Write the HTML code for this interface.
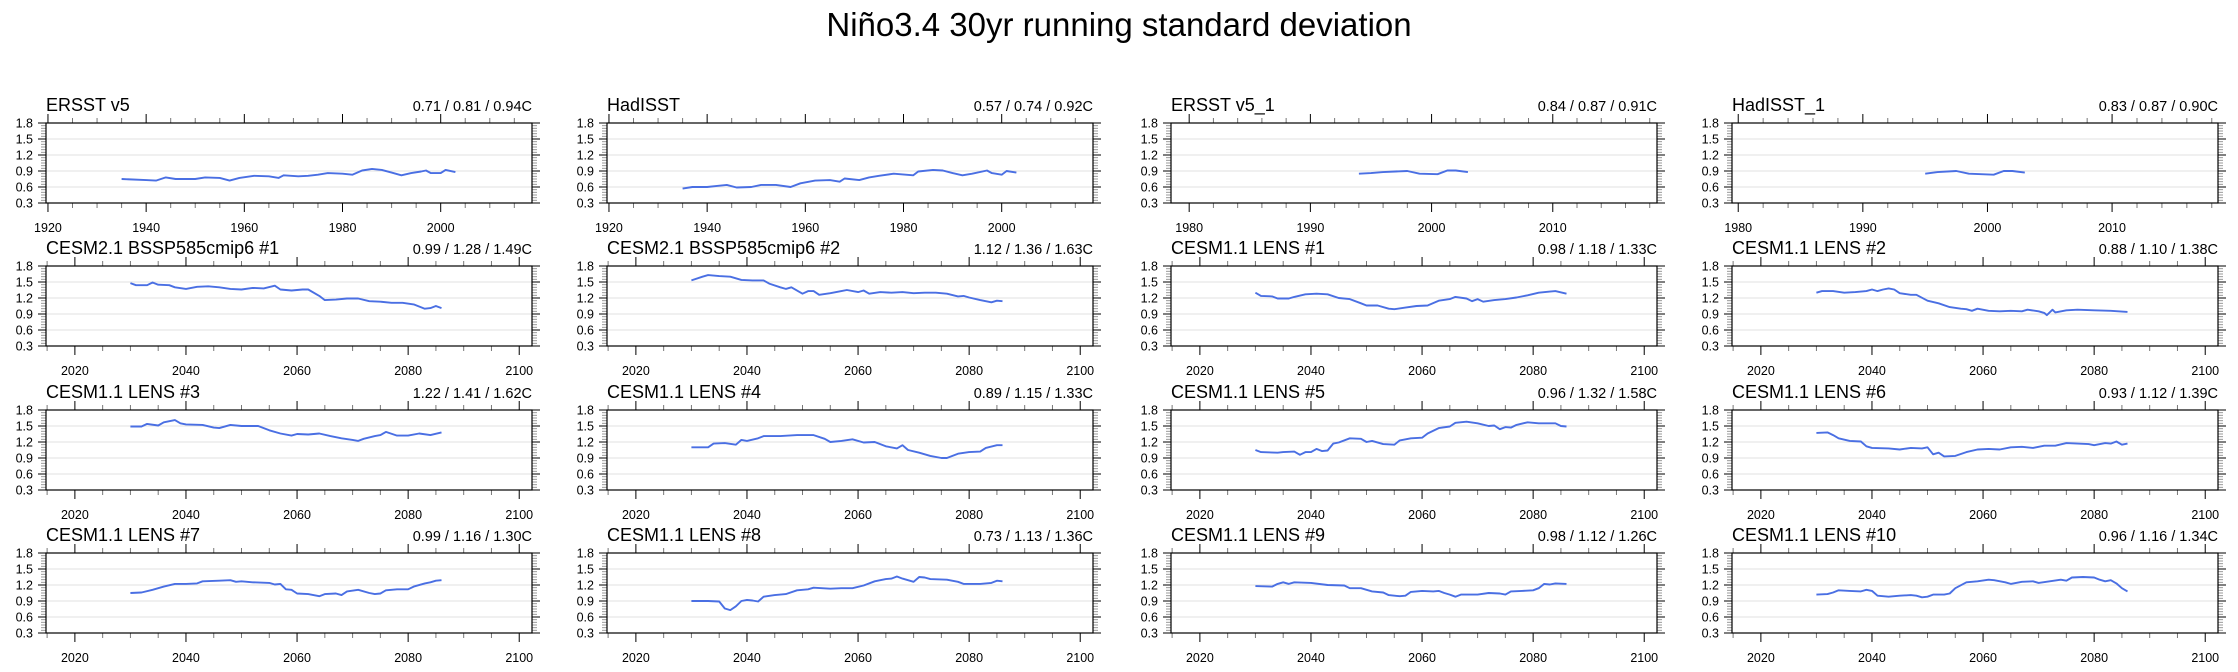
<!DOCTYPE html>
<html><head><meta charset="utf-8">
<style>
html,body{margin:0;padding:0;background:#fff;}
svg{display:block;font-family:"Liberation Sans",sans-serif;}
</style></head>
<body>
<svg id="chart" width="2238" height="672" viewBox="0 0 2238 672" xmlns="http://www.w3.org/2000/svg">
<text x="1119" y="36" text-anchor="middle" font-size="33" fill="#000">Niño3.4 30yr running standard deviation</text>
</svg>
<script>
// ---- data ----
const ersstYears=[1935,1940,1942,1944,1946,1950,1952,1955,1957,1959,1962,1965,1967,1968,1971,1973,1975,1977,1980,1982,1984,1986,1988,1990,1992,1994,1996,1997,1998,2000,2001,2003];
const ersstVals=[0.75,0.73,0.72,0.78,0.75,0.75,0.78,0.77,0.72,0.77,0.81,0.80,0.77,0.82,0.80,0.81,0.83,0.86,0.85,0.83,0.91,0.94,0.92,0.87,0.82,0.86,0.89,0.91,0.86,0.86,0.92,0.88];
const hadYears=[1935,1937,1940,1942,1944,1946,1949,1951,1954,1957,1959,1962,1965,1967,1968,1971,1973,1975,1978,1982,1983,1986,1988,1990,1992,1994,1997,1998,2000,2001,2003];
const hadVals=[0.57,0.60,0.60,0.62,0.64,0.59,0.60,0.64,0.64,0.60,0.67,0.72,0.73,0.70,0.76,0.73,0.78,0.81,0.85,0.82,0.89,0.92,0.91,0.86,0.82,0.85,0.91,0.86,0.83,0.90,0.87];
const ersst1Years=[1994,1995,1996,1997,1998,1999,2000.5,2001.3,2002,2003];
const ersst1Vals=[0.85,0.86,0.88,0.89,0.90,0.85,0.84,0.91,0.91,0.88];
const had1Years=[1995,1996,1997.5,1998.5,2000.5,2001.3,2002,2003];
const had1Vals=[0.85,0.88,0.90,0.85,0.83,0.90,0.90,0.87];
const b1Years=[2030,2031,2033,2034,2035,2037,2038,2040,2042,2044,2046,2048,2050,2052,2054,2056,2057,2059,2061,2062,2064,2065,2067,2069,2071,2073,2075,2077,2079,2081,2083,2084,2085,2086];
const b1Vals=[1.48,1.44,1.44,1.49,1.45,1.44,1.40,1.37,1.41,1.42,1.40,1.37,1.36,1.39,1.38,1.43,1.36,1.34,1.36,1.36,1.24,1.16,1.17,1.19,1.19,1.14,1.13,1.11,1.11,1.08,1.00,1.01,1.05,1.01];
const b2Years=[2030,2032,2033,2035,2037,2039,2041,2043,2044,2046,2047,2048,2050,2051,2052,2053,2055,2057,2058,2060,2061,2062,2064,2066,2068,2070,2072,2074,2076,2078,2079,2080,2082,2084,2085,2086];
const b2Vals=[1.53,1.60,1.63,1.61,1.60,1.54,1.53,1.53,1.47,1.40,1.37,1.40,1.28,1.33,1.33,1.26,1.29,1.33,1.35,1.31,1.34,1.28,1.31,1.30,1.31,1.29,1.30,1.30,1.28,1.23,1.24,1.21,1.16,1.12,1.15,1.14];
const l1Years=[2030,2031,2033,2034,2036,2037,2039,2041,2043,2045,2047,2049,2050,2052,2054,2055,2057,2059,2061,2063,2065,2066,2068,2069,2070,2071,2073,2075,2077,2079,2081,2083,2084,2086];
const l1Vals=[1.30,1.24,1.23,1.19,1.19,1.22,1.27,1.28,1.27,1.20,1.18,1.10,1.06,1.06,1.00,0.99,1.02,1.05,1.06,1.15,1.18,1.22,1.19,1.14,1.18,1.13,1.16,1.18,1.21,1.25,1.30,1.32,1.33,1.28];
const l2Years=[2030,2031,2033,2035,2037,2039,2040,2041,2042,2043,2044,2045,2047,2048,2050,2052,2054,2056,2057,2058,2059,2061,2063,2065,2067,2068,2070,2071,2071.5,2072.5,2073,2075,2077,2080,2083,2086];
const l2Vals=[1.30,1.33,1.33,1.30,1.31,1.33,1.36,1.33,1.36,1.38,1.36,1.29,1.26,1.26,1.15,1.10,1.03,1.00,0.99,0.96,1.00,0.96,0.95,0.96,0.95,0.98,0.95,0.92,0.88,0.98,0.93,0.97,0.98,0.97,0.96,0.94];
const l3Years=[2030,2032,2033,2035,2036,2038,2039,2040,2043,2045,2046,2048,2050,2053,2055,2057,2059,2060,2062,2064,2066,2068,2070,2071,2072,2074,2075,2076,2078,2080,2082,2084,2086];
const l3Vals=[1.49,1.49,1.54,1.51,1.57,1.61,1.55,1.53,1.52,1.47,1.46,1.52,1.50,1.50,1.42,1.36,1.32,1.35,1.34,1.36,1.31,1.27,1.24,1.22,1.26,1.31,1.33,1.39,1.32,1.32,1.36,1.33,1.38];
const l4Years=[2030,2033,2034,2036,2038,2039,2040,2042,2043,2046,2049,2052,2054,2055,2057,2059,2061,2063,2065,2067,2068,2069,2071,2073,2075,2076,2078,2080,2082,2083,2085,2086];
const l4Vals=[1.10,1.10,1.17,1.18,1.15,1.24,1.22,1.27,1.31,1.31,1.33,1.33,1.26,1.20,1.22,1.25,1.19,1.20,1.12,1.08,1.14,1.05,1.00,0.94,0.90,0.90,0.98,1.01,1.02,1.09,1.14,1.14];
const l5Years=[2030,2031,2034,2035,2037,2038,2039,2040,2041,2042,2043,2044,2045,2047,2049,2050,2051,2053,2055,2056,2058,2060,2061,2063,2065,2066,2068,2070,2072,2073,2074,2075,2076,2077,2079,2081,2084,2085,2086];
const l5Vals=[1.05,1.01,1.00,1.01,1.02,0.96,1.01,1.01,1.07,1.03,1.04,1.17,1.19,1.27,1.26,1.20,1.22,1.16,1.15,1.23,1.27,1.28,1.36,1.46,1.49,1.56,1.58,1.55,1.50,1.51,1.44,1.48,1.47,1.52,1.57,1.55,1.55,1.50,1.49];
const l6Years=[2030,2032,2033,2034,2036,2038,2039,2040,2043,2045,2047,2049,2050,2051,2052,2053,2055,2057,2059,2061,2063,2065,2067,2069,2071,2073,2075,2077,2079,2080,2082,2083,2084,2085,2086];
const l6Vals=[1.37,1.38,1.33,1.27,1.22,1.21,1.12,1.09,1.08,1.06,1.09,1.08,1.10,0.97,1.00,0.93,0.94,1.01,1.06,1.07,1.06,1.10,1.11,1.09,1.13,1.13,1.18,1.17,1.16,1.14,1.18,1.17,1.21,1.15,1.17];
const l7Years=[2030,2032,2034,2036,2038,2040,2042,2043,2046,2048,2049,2050,2052,2055,2056,2057,2058,2059,2060,2062,2064,2065,2067,2068,2069,2071,2073,2074,2075,2076,2078,2080,2081,2083,2084,2085,2086];
const l7Vals=[1.05,1.06,1.11,1.17,1.22,1.22,1.23,1.27,1.28,1.29,1.26,1.27,1.25,1.24,1.21,1.22,1.12,1.11,1.04,1.03,0.99,1.03,1.04,1.01,1.08,1.11,1.05,1.03,1.04,1.10,1.12,1.12,1.17,1.23,1.25,1.28,1.29];
const l8Years=[2030,2033,2035,2036,2037,2038,2039,2040,2041,2042,2043,2045,2047,2049,2051,2052,2055,2057,2059,2061,2063,2065,2066,2067,2068,2070,2071,2072,2073,2076,2078,2079,2082,2084,2085,2086];
const l8Vals=[0.90,0.90,0.89,0.76,0.73,0.80,0.90,0.92,0.91,0.89,0.98,1.01,1.03,1.10,1.12,1.15,1.13,1.14,1.14,1.19,1.27,1.31,1.32,1.36,1.32,1.26,1.35,1.34,1.31,1.30,1.26,1.22,1.22,1.24,1.28,1.27];
const l9Years=[2030,2033,2034,2035,2036,2037,2040,2043,2046,2047,2049,2051,2053,2054,2056,2057,2058,2060,2062,2063,2064,2065,2066,2067,2070,2072,2074,2075,2076,2078,2080,2081,2082,2083,2084,2086];
const l9Vals=[1.18,1.17,1.22,1.25,1.22,1.25,1.24,1.20,1.19,1.14,1.14,1.08,1.06,1.01,0.99,1.00,1.07,1.09,1.08,1.09,1.05,1.02,0.98,1.02,1.02,1.05,1.04,1.02,1.08,1.09,1.10,1.14,1.22,1.21,1.23,1.22];
const l10Years=[2030,2032,2033,2034,2036,2038,2039,2040,2041,2043,2045,2047,2048,2049,2050,2051,2053,2054,2055,2057,2059,2061,2062,2064,2065,2067,2069,2070,2072,2074,2075,2076,2078,2080,2081,2082,2083,2084,2085,2086];
const l10Vals=[1.02,1.03,1.06,1.10,1.09,1.08,1.11,1.09,1.00,0.98,1.00,1.01,1.00,0.97,0.98,1.02,1.02,1.04,1.14,1.25,1.27,1.30,1.29,1.25,1.22,1.26,1.27,1.24,1.27,1.30,1.28,1.34,1.35,1.34,1.30,1.27,1.29,1.23,1.14,1.08];

const panelTitles=["ERSST v5","HadISST","ERSST v5_1","HadISST_1","CESM2.1 BSSP585cmip6 #1","CESM2.1 BSSP585cmip6 #2","CESM1.1 LENS #1","CESM1.1 LENS #2","CESM1.1 LENS #3","CESM1.1 LENS #4","CESM1.1 LENS #5","CESM1.1 LENS #6","CESM1.1 LENS #7","CESM1.1 LENS #8","CESM1.1 LENS #9","CESM1.1 LENS #10"];
const panelStats=["0.71 / 0.81 / 0.94C","0.57 / 0.74 / 0.92C","0.84 / 0.87 / 0.91C","0.83 / 0.87 / 0.90C","0.99 / 1.28 / 1.49C","1.12 / 1.36 / 1.63C","0.98 / 1.18 / 1.33C","0.88 / 1.10 / 1.38C","1.22 / 1.41 / 1.62C","0.89 / 1.15 / 1.33C","0.96 / 1.32 / 1.58C","0.93 / 1.12 / 1.39C","0.99 / 1.16 / 1.30C","0.73 / 1.13 / 1.36C","0.98 / 1.12 / 1.26C","0.96 / 1.16 / 1.34C"];
const seriesYears=[ersstYears,hadYears,ersst1Years,had1Years,b1Years,b2Years,l1Years,l2Years,l3Years,l4Years,l5Years,l6Years,l7Years,l8Years,l9Years,l10Years];
const seriesVals=[ersstVals,hadVals,ersst1Vals,had1Vals,b1Vals,b2Vals,l1Vals,l2Vals,l3Vals,l4Vals,l5Vals,l6Vals,l7Vals,l8Vals,l9Vals,l10Vals];
const yTickLabels=["0.3","0.6","0.9","1.2","1.5","1.8"];

// ---- layout ----
const NS="http://www.w3.org/2000/svg";
const svg=document.getElementById('chart');
const colLeft=[46,607,1171,1732], plotW=486, rowTop=[123,266,410,553], plotH=80;
const yMin=0.3,yMax=1.8;
function xDomain(i){
  if(i<2) return [1919.6,2018.6,20,5];
  if(i===2) return [1978.5,2018.6,10,2];
  if(i===3) return [1979.5,2018.5,10,2];
  return [2014.8,2102.3,20,5];
}
function mk(tag,attrs,parent){const e=document.createElementNS(NS,tag);for(const k in attrs)e.setAttribute(k,attrs[k]);(parent||svg).appendChild(e);return e;}

for(let i=0;i<16;i++){
  const L=colLeft[i%4], T=rowTop[Math.floor(i/4)], R=L+plotW, B=T+plotH;
  const [x0,x1,maj,mnr]=xDomain(i);
  const sx=v=>L+(v-x0)/(x1-x0)*plotW;
  const sy=v=>B-(v-yMin)/(yMax-yMin)*plotH;
  const g=mk('g',{});
  
  
  for(let v=0.6;v<1.75;v+=0.3){
    const gl=mk('line',{x1:L,x2:R,y1:sy(v),y2:sy(v),stroke:'#e6e6e6','stroke-width':1.3},g);
    
    
  }
  for(let k=0;k<=30;k++){
    const v=yMin+k*0.05, y=sy(v), major=(k%6===0);
    const len=major?8:5, col=major?'#000':'#999';
    mk('line',{x1:L-len,x2:L,y1:y,y2:y,stroke:col,'stroke-width':1},g);
    mk('line',{x1:R,x2:R+len,y1:y,y2:y,stroke:col,'stroke-width':1},g);
  }
  yTickLabels.forEach(s=>{
    const t=mk('text',{x:L-13,y:sy(parseFloat(s))+4.5,'text-anchor':'end','font-size':12.5,fill:'#000'},g);
    
    
    t.textContent=s;
  });
  for(let yr=Math.ceil(x0/mnr)*mnr; yr<=x1; yr+=mnr){
    const x=sx(yr), major=(yr%maj===0), len=major?9:5;
    mk('line',{x1:x,x2:x,y1:T-len,y2:T,stroke:major?'#000':'#777','stroke-width':1},g);
    mk('line',{x1:x,x2:x,y1:B,y2:B+len,stroke:major?'#000':'#777','stroke-width':1},g);
    if(major){
      const t=mk('text',{x:x,y:B+29,'text-anchor':'middle','font-size':12.5,fill:'#000'},g);
      
      
      t.textContent=String(yr);
    }
  }
  const fr=mk('rect',{x:L,y:T,width:plotW,height:plotH,fill:'none',stroke:'#000','stroke-width':1.2},g);
  
  
  const ys=seriesYears[i], vs=seriesVals[i];
  const pts=ys.map((yr,j)=>sx(yr).toFixed(1)+','+sy(vs[j]).toFixed(1)).join(' ');
  const pl=mk('polyline',{points:pts,fill:'none',stroke:'#4a6fe3','stroke-width':1.9,'stroke-linejoin':'round'},g);
  
  
  const tt=mk('text',{x:L,y:T-12,'font-size':18,fill:'#000'},g);
  
  
  tt.textContent=panelTitles[i];
  const st=mk('text',{x:R,y:T-12,'text-anchor':'end','font-size':14.5,fill:'#000'},g);
  
  
  st.textContent=panelStats[i];
}
</script>
</body></html>
